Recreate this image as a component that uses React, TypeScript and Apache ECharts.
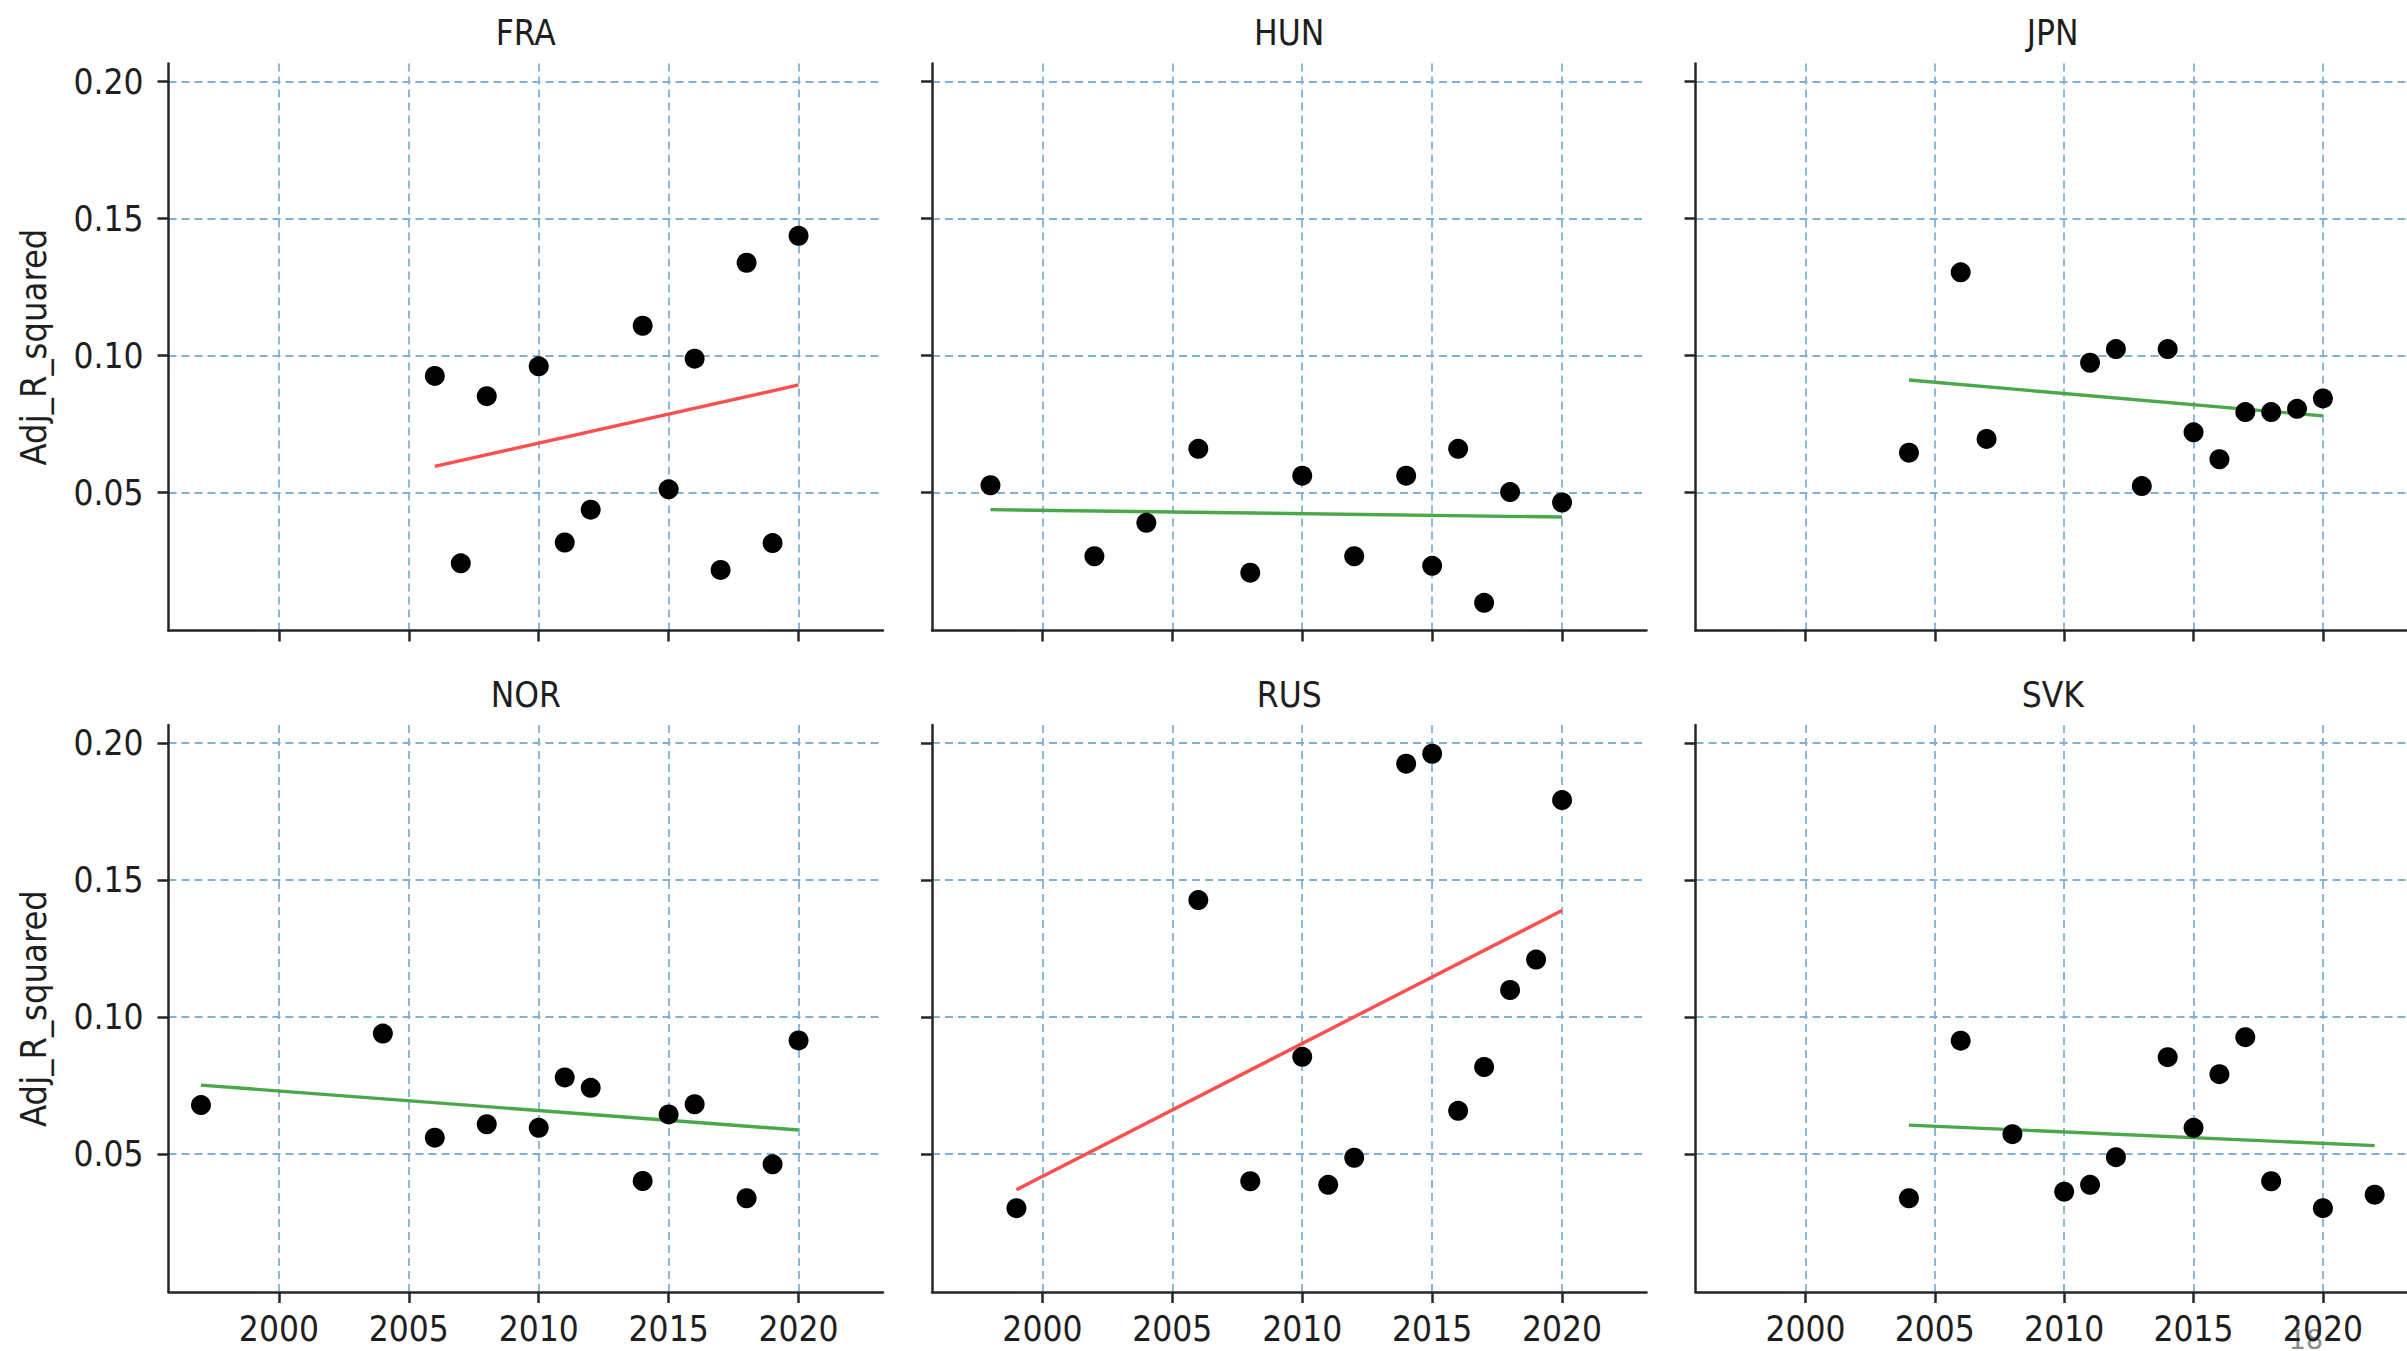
import React, { useEffect, useRef } from "react";
import * as echarts from "echarts";

// ---- Data ----
const panelNames = ["FRA", "HUN", "JPN", "NOR", "RUS", "SVK"];

const fraYears = [2006, 2007, 2008, 2010, 2011, 2012, 2014, 2015, 2016, 2017, 2018, 2019, 2020];
const fraValues = [0.0926, 0.0242, 0.0852, 0.0961, 0.0318, 0.0438, 0.1109, 0.0512, 0.0989, 0.0218, 0.1339, 0.0316, 0.1437];
const fraTrend = [0.0596, 0.0893];

const hunYears = [1998, 2002, 2004, 2006, 2008, 2010, 2012, 2014, 2015, 2016, 2017, 2018, 2020];
const hunValues = [0.0527, 0.0268, 0.039, 0.066, 0.0208, 0.0562, 0.0268, 0.0562, 0.0233, 0.066, 0.0098, 0.0502, 0.0464];
const hunTrend = [0.0438, 0.0411];

const jpnYears = [2004, 2006, 2007, 2011, 2012, 2013, 2014, 2015, 2016, 2017, 2018, 2019, 2020];
const jpnValues = [0.0646, 0.1304, 0.0696, 0.0974, 0.1024, 0.0524, 0.1024, 0.072, 0.0622, 0.0794, 0.0794, 0.0806, 0.0844];
const jpnTrend = [0.0911, 0.078];

const norYears = [1997, 2004, 2006, 2008, 2010, 2011, 2012, 2014, 2015, 2016, 2018, 2019, 2020];
const norValues = [0.0679, 0.094, 0.056, 0.0609, 0.0596, 0.078, 0.0742, 0.0402, 0.0645, 0.0682, 0.0339, 0.0463, 0.0915];
const norTrend = [0.0752, 0.0588];

const rusYears = [1999, 2006, 2008, 2010, 2011, 2012, 2014, 2015, 2016, 2017, 2018, 2019, 2020];
const rusValues = [0.0303, 0.1427, 0.0401, 0.0855, 0.0388, 0.0487, 0.1925, 0.1961, 0.0658, 0.0818, 0.1099, 0.121, 0.1792];
const rusTrend = [0.037, 0.1389];

const svkYears = [2004, 2006, 2008, 2010, 2011, 2012, 2014, 2015, 2016, 2017, 2018, 2020, 2022];
const svkValues = [0.0339, 0.0914, 0.0573, 0.0363, 0.0388, 0.0489, 0.0854, 0.0596, 0.0792, 0.0927, 0.0401, 0.0303, 0.0352];
const svkTrend = [0.0606, 0.0531];

const panelYears = [fraYears, hunYears, jpnYears, norYears, rusYears, svkYears];
const panelValues = [fraValues, hunValues, jpnValues, norValues, rusValues, svkValues];
const panelTrends = [fraTrend, hunTrend, jpnTrend, norTrend, rusTrend, svkTrend];

const xTicks = [2000, 2005, 2010, 2015, 2020];
const yTicks = [0.05, 0.1, 0.15, 0.2];
const yAxisTitle = "Adj_R_squared";
const cornerNote = "18";

// ---- Layout / style ----
const X_MIN = 1995.75;
const X_MAX = 2023.25;
const Y_MIN = -0.0003;
const Y_MAX = 0.2066;

const colLefts = [168.5, 932, 1695.5];
const rowTops = [63.5, 725];
const panelW = 714.5;
const panelH = 567;

const FONT = "'DejaVu Sans Condensed', 'DejaVu Sans', sans-serif";
const TEXT = "#1e1e1e";
const AXIS = "#262626";
const GRID = "#80b1d6";
const RED = "#ff4f4f";
const GREEN = "#4aa84a";

export default function App() {
  const ref = useRef<HTMLDivElement>(null);

  useEffect(() => {
    if (!ref.current) return;
    const chart = echarts.init(ref.current, null, { renderer: "svg" });

    const grids: any[] = [];
    const xAxes: any[] = [];
    const yAxes: any[] = [];
    const series: any[] = [];
    const graphics: any[] = [];

    panelNames.forEach((name, i) => {
      const row = Math.floor(i / 3);
      const col = i % 3;
      const left = colLefts[col];
      const top = rowTops[row];
      grids.push({ left, top, width: panelW, height: panelH, show: false, containLabel: false });

      xAxes.push({
        type: "value",
        gridIndex: i,
        min: X_MIN,
        max: X_MAX,
        axisLine: { show: true, onZero: false, lineStyle: { color: AXIS, width: 2.5 } },
        axisTick: { show: true, length: 11, customValues: xTicks, lineStyle: { color: AXIS, width: 2.5 } },
        axisLabel: {
          show: row === 1,
          customValues: xTicks,
          margin: 19,
          fontSize: 35,
          fontFamily: FONT,
          color: TEXT,
          formatter: (v: number) => String(Math.round(v)),
        },
        splitLine: { show: true, lineStyle: { color: GRID, width: 1.8, type: [8, 5] } },
      });

      yAxes.push({
        type: "value",
        gridIndex: i,
        min: Y_MIN,
        max: Y_MAX,
        name: col === 0 ? yAxisTitle : "",
        nameLocation: "middle",
        nameGap: 117,
        nameTextStyle: { fontSize: 36, fontFamily: FONT, color: TEXT },
        axisLine: { show: true, onZero: false, lineStyle: { color: AXIS, width: 2.5 } },
        axisTick: { show: true, length: 11, customValues: yTicks, lineStyle: { color: AXIS, width: 2.5 } },
        axisLabel: {
          show: col === 0,
          customValues: yTicks,
          margin: 25,
          fontSize: 35,
          fontFamily: FONT,
          color: TEXT,
          formatter: (v: number) => v.toFixed(2),
        },
        splitLine: { show: true, lineStyle: { color: GRID, width: 1.8, type: [8, 5] } },
      });

      const years = panelYears[i];
      const vals = panelValues[i];
      const trend = panelTrends[i];
      const firstYear = years[0];
      const lastYear = years[years.length - 1];

      series.push({
        type: "line",
        xAxisIndex: i,
        yAxisIndex: i,
        data: [
          [firstYear, trend[0]],
          [lastYear, trend[1]],
        ],
        showSymbol: false,
        symbol: "none",
        lineStyle: { color: trend[1] > trend[0] ? RED : GREEN, width: 3.4 },
        z: 2,
        silent: true,
      });

      series.push({
        type: "scatter",
        xAxisIndex: i,
        yAxisIndex: i,
        data: years.map((y, k) => [y, vals[k]]),
        symbol: "circle",
        symbolSize: 20,
        itemStyle: { color: "#000000", opacity: 1 },
        z: 3,
      });

      graphics.push({
        type: "text",
        x: left + panelW / 2,
        y: row === 0 ? 33 : 695,
        style: {
          text: name,
          fontSize: 35,
          fontFamily: FONT,
          fill: TEXT,
          textAlign: "center",
          textVerticalAlign: "middle",
        },
      });
    });

    graphics.push({
      type: "text",
      x: 2306,
      y: 1326,
      style: {
        text: cornerNote,
        fontSize: 27,
        fontFamily: "'DejaVu Sans', sans-serif",
        fill: "#8c8c8c",
        textAlign: "center",
        textVerticalAlign: "top",
      },
    });

    chart.setOption({
      animation: false,
      backgroundColor: "#ffffff",
      grid: grids,
      xAxis: xAxes,
      yAxis: yAxes,
      series,
      graphic: graphics,
    });

    return () => chart.dispose();
  }, []);

  return (
    <div
      ref={ref}
      style={{ position: "absolute", left: 0, top: 0, width: 2407, height: 1351, background: "#fff" }}
    />
  );
}
